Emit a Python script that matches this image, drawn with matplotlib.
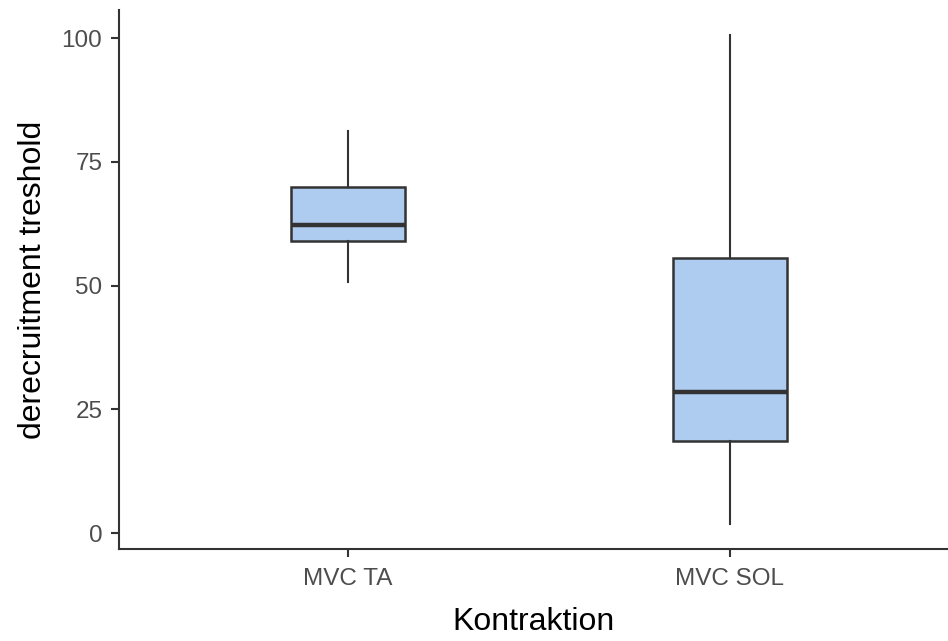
import matplotlib
matplotlib.use("Agg")
import matplotlib.pyplot as plt

# Box statistics (whisker ends, quartiles, median)
groups = ["MVC TA", "MVC SOL"]
whislo = [50.7, 1.8]
q1 = [59.0, 18.6]
med = [62.2, 28.5]
q3 = [69.9, 55.6]
whishi = [81.2, 100.6]

plt.rcParams['font.family'] = ['Liberation Sans', 'DejaVu Sans']

fig = plt.figure(figsize=(9.48, 6.41), dpi=100)
ax = fig.add_axes([119 / 948, (641 - 549) / 641, 1 - 119 / 948, (549 - 10) / 641])

stats = []
for i, g in enumerate(groups):
    stats.append(dict(label=g, whislo=whislo[i], q1=q1[i], med=med[i],
                      q3=q3[i], whishi=whishi[i], fliers=[]))

line_col = "#333333"
ax.bxp(stats, positions=[1, 2], widths=0.3, patch_artist=True, showcaps=False,
       boxprops=dict(facecolor="#aecbf0", edgecolor=line_col, linewidth=1.8),
       medianprops=dict(color=line_col, linewidth=3.2),
       whiskerprops=dict(color=line_col, linewidth=1.5))

ax.set_xlim(0.4, 2.571)
ax.set_ylim(-3.2, 105.7)
ax.set_yticks([0, 25, 50, 75, 100])

for s in ["top", "right"]:
    ax.spines[s].set_visible(False)
for s in ["left", "bottom"]:
    ax.spines[s].set_color(line_col)
    ax.spines[s].set_linewidth(1.5)

ax.tick_params(axis="both", colors=line_col, width=1.5, length=6,
               labelsize=17.5, labelcolor="#4d4d4d")
ax.tick_params(axis="x", pad=8)
ax.tick_params(axis="y", pad=6)

ax.set_xlabel("Kontraktion", fontsize=23, labelpad=12)
ax.set_ylabel("derecruitment treshold", fontsize=23, labelpad=10)

fig.savefig("out.png", dpi=100)
